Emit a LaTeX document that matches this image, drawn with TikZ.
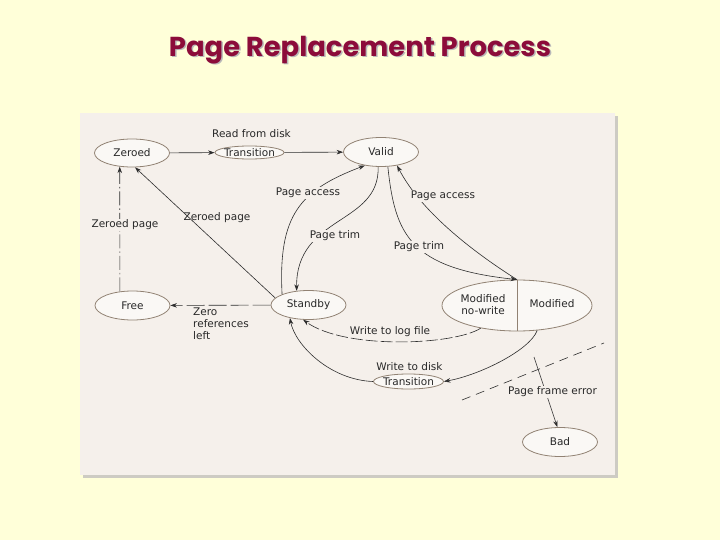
\documentclass[tikz,border=0pt]{standalone}
\usepackage{fontspec}
\setmainfont{DejaVu Sans}
\newfontfamily\titlefont{Poppins}
\usetikzlibrary{shapes.geometric, arrows.meta, positioning, calc}
\definecolor{prbg}{RGB}{255,255,217}
\definecolor{prpanel}{RGB}{245,240,235}
\definecolor{prshade}{RGB}{205,203,195}
\definecolor{predge}{RGB}{145,130,115}
\definecolor{prline}{RGB}{45,45,45}
\definecolor{prtext}{RGB}{40,40,40}
\definecolor{prtitle}{RGB}{140,12,58}

\begin{document}
\begin{tikzpicture}[x=1pt, y=-1pt,
  state/.style={ellipse, draw=predge, fill=prpanel!50!white, line width=0.8pt, minimum width=75pt, minimum height=29pt, inner sep=0pt, font=\fontsize{10.5}{12}\selectfont, text=prtext},
  trans/.style={state, minimum width=70pt, minimum height=15pt, inner xsep=-1.5pt},
  lbl/.style={font=\fontsize{10.5}{12}\selectfont, text=prtext, inner sep=1pt},
  bglbl/.style={lbl, fill=prpanel},
  ttl/.style={font=\titlefont\bfseries\fontsize{27.4}{32}\selectfont},
  arr/.style={-{Stealth[length=6.5pt, width=4.5pt]}, draw=prline, line width=0.6pt}
]
\useasboundingbox[fill=prbg] (0,0) rectangle (720,540);
% Panel
\fill[prshade] (83,116) rectangle (618,478);
\fill[prpanel] (80,113) rectangle (615,475);
% Title
\node[ttl, text=gray!55] (titleshade) at (361.5,51.5) {Page Replacement Process};
\node[ttl, text=prtitle] (title) at (360,50) {Page Replacement Process};
% States
\node[state, minimum height=28pt] (zer) at (132,153) {Zeroed};
\node[trans, minimum width=69pt, minimum height=13pt] (t1) at (249.5,152.5) {Transition};
\node[state] (val) at (381,152) {Valid};
\node[state] (free) at (132.5,305.5) {Free};
\node[state] (sby) at (308.5,305) {Standby};
\node[state, minimum width=150pt, minimum height=51pt] (mod) at (517,305.5) {};
\node[trans] (t2) at (408.5,381.5) {Transition};
\node[state] (bad) at (560,442) {Bad};
\draw[predge, line width=0.8pt] (mod.north) -- (mod.south);
\node[lbl, align=center] (modnw) at (483,305) {Modified\\no-write};
\node[lbl] (modw) at (552,304) {Modified};
% Connectors
\draw[arr] (zer) -- (t1);
\draw[arr] (t1) -- (val);
\draw[arr, dash pattern=on 14pt off 3pt on 1.5pt off 3pt] (free.132) -- (zer.228);
\draw[arr] (sby.168) -- (zer.-78);
\draw[arr, dash pattern=on 18pt off 4pt] (sby) -- (free);
\draw[arr] (sby.158) .. controls (278,215) and (300,190) .. (val.220);
\draw[arr] (val.259) .. controls (380,225) and (296,215) .. (sby.130);
\draw[arr] (mod.north) .. controls (470,250) and (420,210) .. (val.320);
\draw[arr] (val.295) .. controls (395,235) and (410,268) .. (mod.north);
\draw[arr, dash pattern=on 12pt off 3pt] (mod.212) .. controls (455,345) and (345,350) .. (sby.250);
\draw[arr] (mod.309) .. controls (530,350) and (480,375) .. (t2.east);
\draw[arr] (t2.west) .. controls (330,380) and (295,345) .. (sby.215);
% Page frame error
\coordinate (sepa) at (462,400);
\coordinate (sepb) at (604,343);
\coordinate (pfe) at (534,357);
\draw[prline, line width=0.6pt, dash pattern=on 9pt off 6pt] (sepa) -- (sepb);
\draw[arr] (pfe) -- (bad.100);
% Labels
\node[lbl] (lrd) at (251.5,133.5) {Read from disk};
\node[bglbl] (lzp1) at (125,225) {Zeroed page};
\node[lbl] (lzp2) at (217,218) {Zeroed page};
\node[bglbl] (lpa1) at (308,193) {Page access};
\node[bglbl] (lpt1) at (335,236) {Page trim};
\node[bglbl] (lpa2) at (443,196) {Page access};
\node[bglbl] (lpt2) at (419,247) {Page trim};
\node[lbl, anchor=west, align=left] (lzr) at (192,323.5) {Zero\\references\\left};
\node[lbl] (llog) at (390,332) {Write to log file};
\node[lbl] (lwd) at (409.5,367) {Write to disk};
\node[bglbl] (lpfe) at (552.5,392) {Page frame error};
\end{tikzpicture}
\end{document}
